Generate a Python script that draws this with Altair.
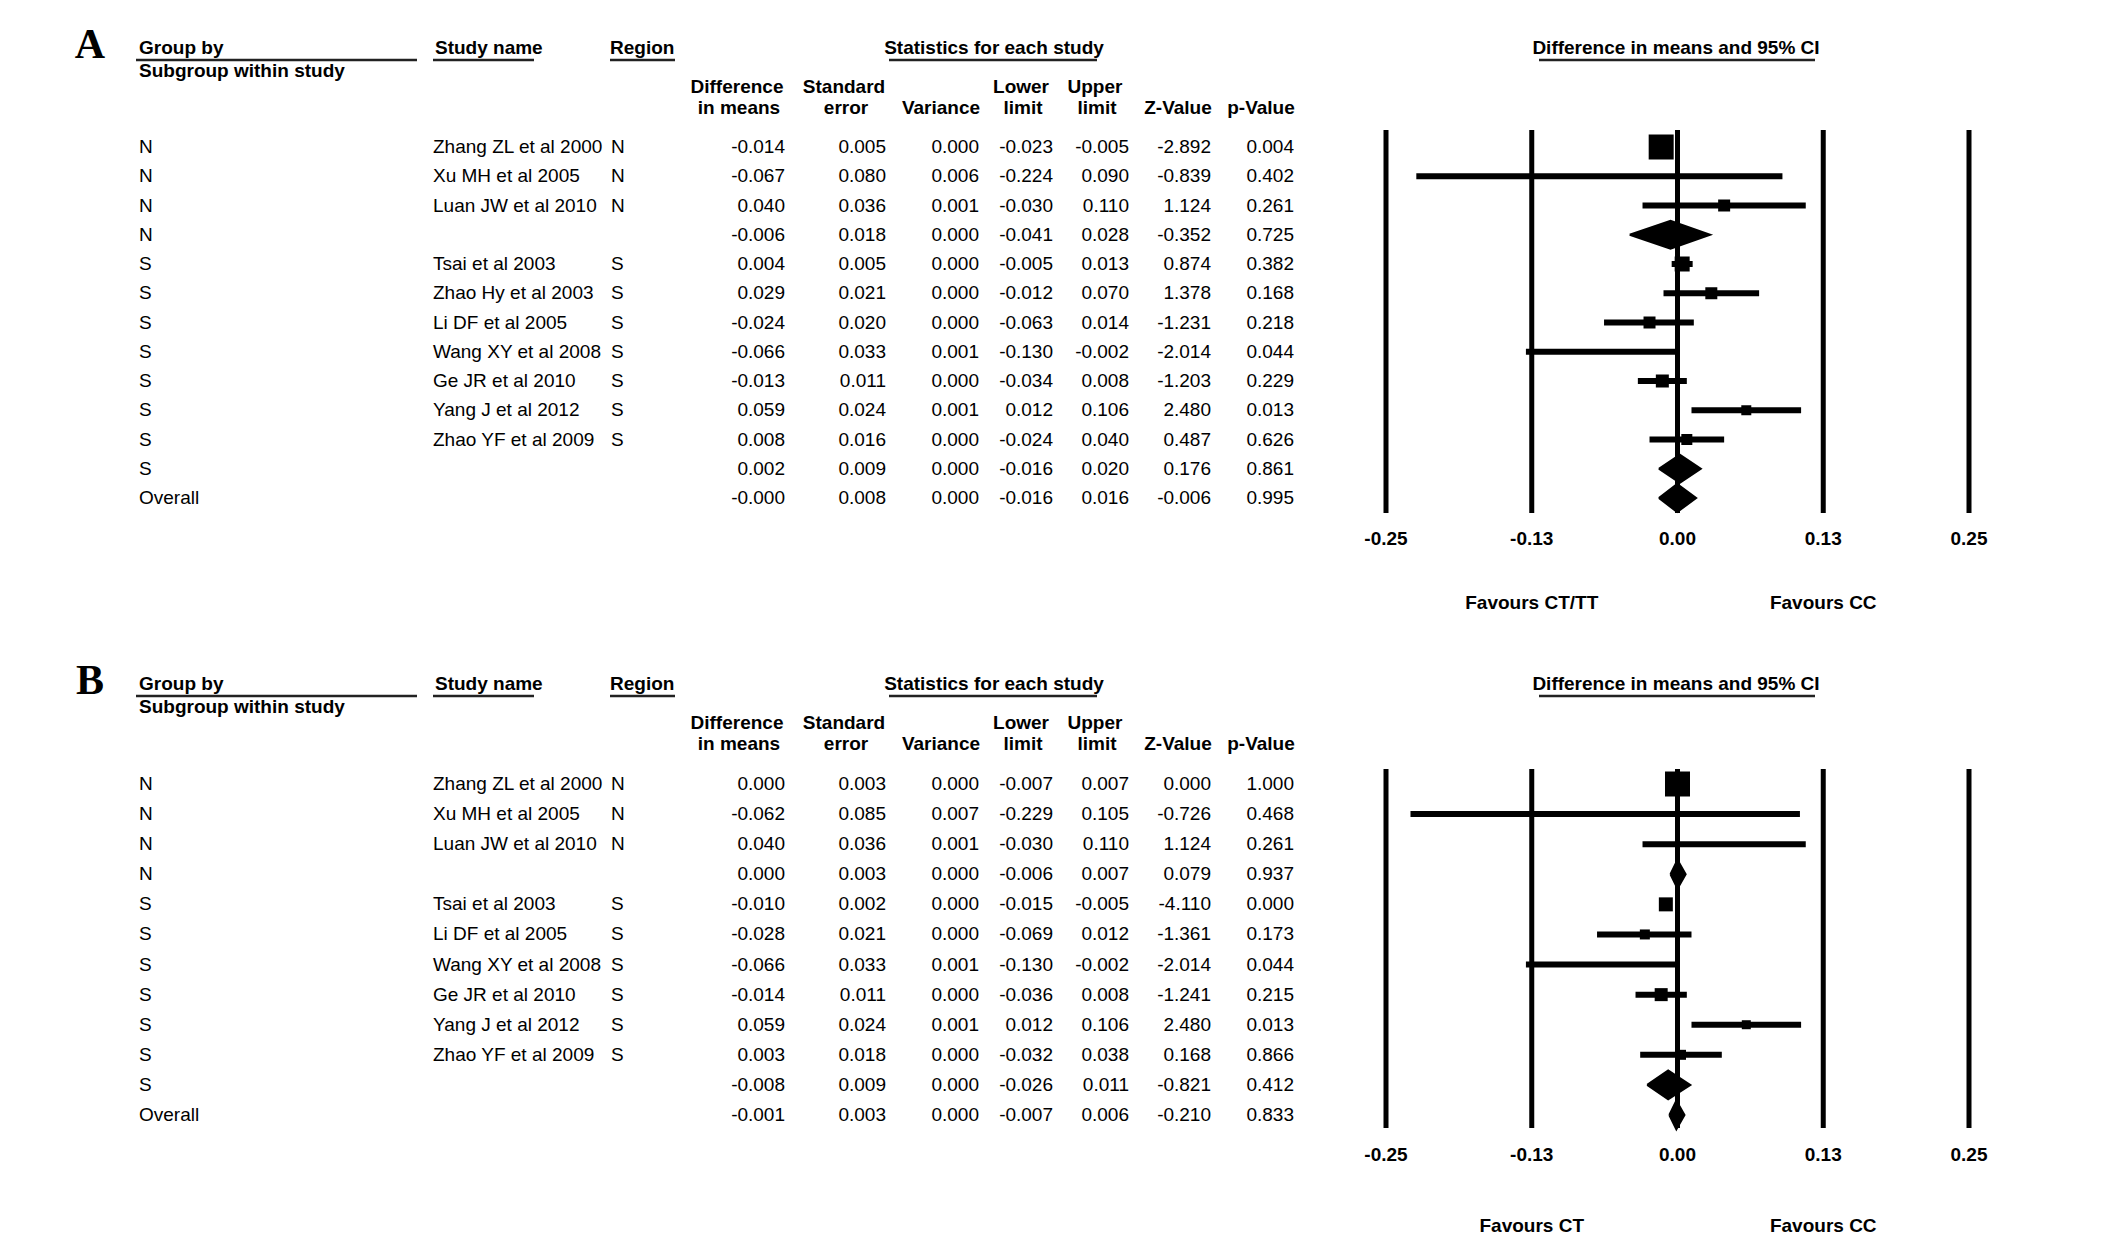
import altair as alt
import pandas as pd

# ---------------- Panel A data ----------------
groups_a = ["N", "N", "N", "N", "S", "S", "S", "S", "S", "S", "S", "S", "Overall"]
studies_a = ["Zhang ZL et al 2000", "Xu MH et al 2005", "Luan JW et al 2010", "",
             "Tsai et al 2003", "Zhao Hy et al 2003", "Li DF et al 2005", "Wang XY et al 2008",
             "Ge JR et al 2010", "Yang J et al 2012", "Zhao YF et al 2009", "", ""]
regions_a = ["N", "N", "N", "", "S", "S", "S", "S", "S", "S", "S", "", ""]
diff_a = [-0.014, -0.067, 0.040, -0.006, 0.004, 0.029, -0.024, -0.066, -0.013, 0.059, 0.008, 0.002, -0.0003]
se_a = [0.005, 0.080, 0.036, 0.018, 0.005, 0.021, 0.020, 0.033, 0.011, 0.024, 0.016, 0.009, 0.008]
var_a = [0.000, 0.006, 0.001, 0.000, 0.000, 0.000, 0.000, 0.001, 0.000, 0.001, 0.000, 0.000, 0.000]
lower_a = [-0.023, -0.224, -0.030, -0.041, -0.005, -0.012, -0.063, -0.130, -0.034, 0.012, -0.024, -0.016, -0.016]
upper_a = [-0.005, 0.090, 0.110, 0.028, 0.013, 0.070, 0.014, -0.002, 0.008, 0.106, 0.040, 0.020, 0.016]
z_a = [-2.892, -0.839, 1.124, -0.352, 0.874, 1.378, -1.231, -2.014, -1.203, 2.480, 0.487, 0.176, -0.006]
p_a = [0.004, 0.402, 0.261, 0.725, 0.382, 0.168, 0.218, 0.044, 0.229, 0.013, 0.626, 0.861, 0.995]
weight_a = [25, 3, 12, 0, 15, 12, 12, 3, 13, 10, 11, 0, 0]   # relative study weight (box size)

# ---------------- Panel B data ----------------
groups_b = ["N", "N", "N", "N", "S", "S", "S", "S", "S", "S", "S", "Overall"]
studies_b = ["Zhang ZL et al 2000", "Xu MH et al 2005", "Luan JW et al 2010", "",
             "Tsai et al 2003", "Li DF et al 2005", "Wang XY et al 2008",
             "Ge JR et al 2010", "Yang J et al 2012", "Zhao YF et al 2009", "", ""]
regions_b = ["N", "N", "N", "", "S", "S", "S", "S", "S", "S", "", ""]
diff_b = [0.000, -0.062, 0.040, 0.000, -0.010, -0.028, -0.066, -0.014, 0.059, 0.003, -0.008, -0.001]
se_b = [0.003, 0.085, 0.036, 0.003, 0.002, 0.021, 0.033, 0.011, 0.024, 0.018, 0.009, 0.003]
var_b = [0.000, 0.007, 0.001, 0.000, 0.000, 0.000, 0.001, 0.000, 0.001, 0.000, 0.000, 0.000]
lower_b = [-0.007, -0.229, -0.030, -0.006, -0.015, -0.069, -0.130, -0.036, 0.012, -0.032, -0.026, -0.007]
upper_b = [0.007, 0.105, 0.110, 0.007, -0.005, 0.012, -0.002, 0.008, 0.106, 0.038, 0.011, 0.006]
z_b = [0.000, -0.726, 1.124, 0.079, -4.110, -1.361, -2.014, -1.241, 2.480, 0.168, -0.821, -0.210]
p_b = [1.000, 0.468, 0.261, 0.937, 0.000, 0.173, 0.044, 0.215, 0.013, 0.866, 0.412, 0.833]
weight_b = [25, 2, 2, 0, 14, 10, 4, 13, 9, 10, 0, 0]

tick_values = [-0.25, -0.125, 0.0, 0.125, 0.25]
tick_labels = ["-0.25", "-0.13", "0.00", "0.13", "0.25"]

FONT = "Liberation Sans"
W = 2110


def fmt(v):
    return f"{v:.3f}"


def txt(text, x, y, align="left", bold=True, size=19, font=FONT):
    return alt.Chart(pd.DataFrame({"a": [0]})).mark_text(
        text=text, align=align, baseline="middle", fontSize=size, font=font,
        fontWeight="bold" if bold else "normal", color="black"
    ).encode(x=alt.value(x), y=alt.value(y))


def uline(x1, x2, y):
    return alt.Chart(pd.DataFrame({"a": [0]})).mark_rule(color="#222", strokeWidth=2.5).encode(
        x=alt.value(x1), x2=alt.value(x2), y=alt.value(y))


def panel(letter, groups, studies, regions, diff, se, var, lower, upper, z, p, weight,
          fav_left, fav_right, row_range, line_top, line_bottom, tick_y, fav_y, height):
    n = len(groups)
    df = pd.DataFrame({
        "row": list(range(n)), "group": groups, "study": studies, "region": regions,
        "diff": diff, "lower": lower, "upper": upper, "weight": weight,
        "summary": [s == "" for s in studies],
        "diff_s": [fmt(v) for v in diff], "se_s": [fmt(v) for v in se],
        "var_s": [fmt(v) for v in var], "lower_s": [fmt(v) for v in lower],
        "upper_s": [fmt(v) for v in upper], "z_s": [fmt(v) for v in z],
        "p_s": [fmt(v) for v in p],
    })
    ys = alt.Scale(domain=[0, n - 1], range=row_range, nice=False, zero=False)
    xs = alt.Scale(domain=[-0.25, 0.25], range=[1378, 1961], nice=False, zero=False)
    base = alt.Chart(df)

    layers = []
    # vertical reference lines
    tdf = pd.DataFrame({"t": tick_values, "lab": tick_labels})
    layers.append(alt.Chart(tdf).mark_rule(color="black", strokeWidth=5).encode(
        x=alt.X("t:Q", scale=xs, axis=None), y=alt.value(line_top), y2=alt.value(line_bottom)))
    # CI lines
    layers.append(base.transform_filter("!datum.summary").mark_rule(color="black", strokeWidth=6).encode(
        x=alt.X("lower:Q", scale=xs, axis=None), x2="upper:Q",
        y=alt.Y("row:Q", scale=ys, axis=None)))
    # squares
    layers.append(base.transform_filter("datum.weight > 0").transform_calculate(
        area="datum.weight * datum.weight").mark_square(color="black", opacity=1).encode(
        x=alt.X("diff:Q", scale=xs, axis=None), y=alt.Y("row:Q", scale=ys, axis=None),
        size=alt.Size("area:Q", scale=None, legend=None)))
    # diamonds (polygon: lower -> top -> upper -> bottom)
    drows = []
    h = 0.48
    for i in range(n):
        if studies[i] == "":
            drows.append({"rid": i, "k": 0, "dx": lower[i], "dy": i})
            drows.append({"rid": i, "k": 1, "dx": diff[i], "dy": i - h})
            drows.append({"rid": i, "k": 2, "dx": upper[i], "dy": i})
            drows.append({"rid": i, "k": 3, "dx": diff[i], "dy": i + h})
            drows.append({"rid": i, "k": 4, "dx": lower[i], "dy": i})
    ddf = pd.DataFrame(drows)
    layers.append(alt.Chart(ddf).mark_line(filled=True, color="black", strokeWidth=0).encode(
        x=alt.X("dx:Q", scale=xs, axis=None), y=alt.Y("dy:Q", scale=ys, axis=None),
        detail="rid:N", order="k:Q"))
    layers.append(alt.Chart(ddf).mark_line(color="black", strokeWidth=2).encode(
        x=alt.X("dx:Q", scale=xs, axis=None), y=alt.Y("dy:Q", scale=ys, axis=None),
        detail="rid:N", order="k:Q"))

    # table columns
    cols = [("group", 131, "left"), ("study", 425, "left"), ("region", 603, "left"),
            ("diff_s", 777, "right"), ("se_s", 878, "right"), ("var_s", 971, "right"),
            ("lower_s", 1045, "right"), ("upper_s", 1121, "right"), ("z_s", 1203, "right"),
            ("p_s", 1286, "right")]
    for field, x, al in cols:
        layers.append(base.mark_text(align=al, baseline="middle", fontSize=19, font=FONT,
                                     color="black").encode(
            x=alt.value(x), y=alt.Y("row:Q", scale=ys, axis=None), text=f"{field}:N"))

    # tick labels
    layers.append(alt.Chart(tdf).mark_text(baseline="middle", fontSize=19, font=FONT,
                                           fontWeight="bold", color="black").encode(
        x=alt.X("t:Q", scale=xs, axis=None), y=alt.value(tick_y), text="lab:N"))
    # favours
    fdf = pd.DataFrame({"t": [-0.125, 0.125], "lab": [fav_left, fav_right]})
    layers.append(alt.Chart(fdf).mark_text(baseline="middle", fontSize=19, font=FONT,
                                           fontWeight="bold", color="black").encode(
        x=alt.X("t:Q", scale=xs, axis=None), y=alt.value(fav_y), text="lab:N"))

    # headers
    layers += [
        txt(letter, 82, 37, align="center", size=42, font="Liberation Serif"),
        txt("Group by", 131, 40), uline(128, 409, 52),
        txt("Subgroup within study", 131, 63),
        txt("Study name", 427, 40), uline(425, 526, 52),
        txt("Region", 602, 40), uline(602, 667, 52),
        txt("Statistics for each study", 986, 40, align="center"), uline(881, 1089, 52),
        txt("Difference in means and 95% CI", 1668, 40, align="center"), uline(1531, 1807, 52),
        txt("Difference", 729, 79, align="center"), txt("in means", 731, 100, align="center"),
        txt("Standard", 836, 79, align="center"), txt("error", 838, 100, align="center"),
        txt("Variance", 933, 100, align="center"),
        txt("Lower", 1013, 79, align="center"), txt("limit", 1015, 100, align="center"),
        txt("Upper", 1087, 79, align="center"), txt("limit", 1089, 100, align="center"),
        txt("Z-Value", 1170, 100, align="center"),
        txt("p-Value", 1253, 100, align="center"),
    ]
    return alt.layer(*layers).properties(width=W, height=height)


panel_a = panel("A", groups_a, studies_a, regions_a, diff_a, se_a, var_a, lower_a, upper_a,
                z_a, p_a, weight_a, "Favours CT/TT", "Favours CC",
                [139, 490], 122, 505, 531, 595, 636)
panel_b = panel("B", groups_b, studies_b, regions_b, diff_b, se_b, var_b, lower_b, upper_b,
                z_b, p_b, weight_b, "Favours CT", "Favours CC",
                [140, 471], 125, 484, 511, 582, 608)

chart = alt.vconcat(panel_a, panel_b, spacing=0).properties(
    padding=0, background="white"
).configure_view(stroke=None)

chart.save("out.html", embed_options={"renderer": "svg", "actions": False})
